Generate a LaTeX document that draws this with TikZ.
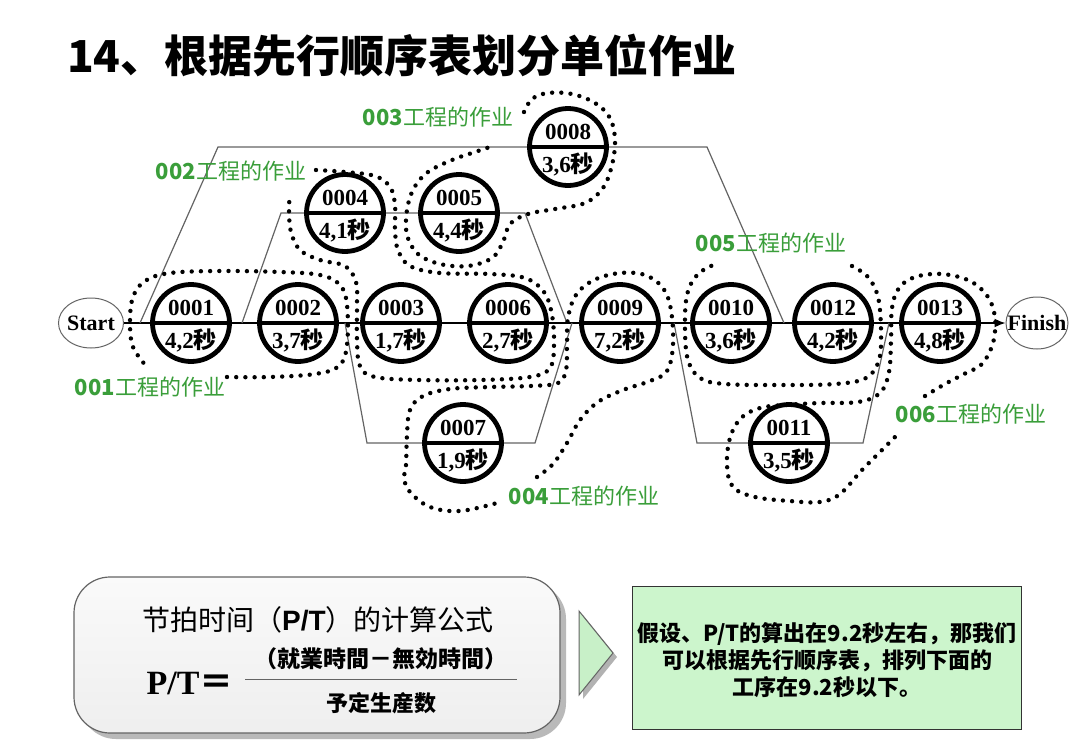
\documentclass[tikz,border=0pt]{standalone}
\usepackage{fontspec}
\setmainfont{Liberation Sans}
\newfontfamily\cjk{Noto Sans CJK SC}
\newfontfamily\tms{Liberation Serif}
\newfontfamily\ars{Liberation Sans}
\usetikzlibrary{shapes.geometric,arrows.meta,shadows}
\definecolor{lblgreen}{RGB}{58,158,58}
\definecolor{boxgreen}{RGB}{204,245,204}
\definecolor{trigreen}{RGB}{200,240,200}
\definecolor{linegray}{RGB}{100,100,100}
\newcommand\procnode[5]{%
  \node[proc] (#1) at (#2,#3) {};
  \draw[line width=4.8pt] (#1.west) -- (#1.east);
  \node[ptxt] (#1top) at ([yshift=15.5pt]#1.center) {#4};
  \node[ptxt] (#1bot) at ([yshift=-17pt]#1.center) {#5{\cjk\bfseries 秒}};
}
\begin{document}
\begin{tikzpicture}[x=1pt,y=-1pt,
  proc/.style={circle,draw=black,line width=4.8pt,fill=white,minimum size=77pt,inner sep=0pt},
  term/.style={ellipse,draw=linegray,line width=1pt,fill=white,inner sep=0pt},
  termtxt/.style={font=\tms\bfseries\fontsize{22}{22}\selectfont,inner sep=0pt},
  conn/.style={draw=linegray,line width=1.2pt},
  mainline/.style={draw=black,line width=1.6pt},
  dots/.style={line width=4.4pt,line cap=round,dash pattern=on 0pt off 9.2pt},
  grp/.style={text=lblgreen,inner sep=0pt},
  ptxt/.style={font=\tms\bfseries\fontsize{23}{23}\selectfont,inner sep=0pt}
]
\useasboundingbox (0,0) rectangle (1080,753);
\fill[white] (0,0) rectangle (1080,753);

% title
\node[anchor=west,inner sep=0pt] (title) at (67,55) {\cjk\bfseries\fontsize{44}{44}\selectfont 14、根据先行顺序表划分单位作业};

% terminals
\node[term,minimum width=65pt,minimum height=50pt] (start) at (91,323) {};
\node[termtxt] (starttxt) at (start) {Start};
\node[term,minimum width=62pt,minimum height=52pt] (finish) at (1037,323) {};
\node[termtxt] (finishtxt) at (finish) {Finish};

% branch coordinates
\coordinate (a1) at (140,323); \coordinate (a2) at (218,147);
\coordinate (a3) at (707,147); \coordinate (a4) at (784,323);
\coordinate (b1) at (242,323); \coordinate (b2) at (281,213);
\coordinate (b3) at (525,213); \coordinate (b4) at (567,323);
\coordinate (c1) at (345,323); \coordinate (c2) at (367,443);
\coordinate (c3) at (535,443); \coordinate (c4) at (572,323);
\coordinate (d1) at (674,323); \coordinate (d2) at (697,443);
\coordinate (d3) at (863,443); \coordinate (d4) at (889,323);

% connectors
\draw[mainline,-{Latex[length=11pt,width=9pt]}] (start.east) -- (finish.west);
\draw[conn] (a1) -- (a2) -- (a3) -- (a4);
\draw[conn] (b1) -- (b2) -- (b3) -- (b4);
\draw[conn] (c1) -- (c2) -- (c3) -- (c4);
\draw[conn] (d1) -- (d2) -- (d3) -- (d4);

% process circles
\procnode{p1}{191}{323}{0001}{4,2}
\procnode{p2}{298}{323}{0002}{3,7}
\procnode{p3}{401}{323}{0003}{1,7}
\procnode{p6}{508}{323}{0006}{2,7}
\procnode{p9}{620}{323}{0009}{7,2}
\procnode{p10}{731}{323}{0010}{3,6}
\procnode{p12}{833}{323}{0012}{4,2}
\procnode{p13}{940}{323}{0013}{4,8}
\procnode{p4}{345}{213}{0004}{4,1}
\procnode{p5}{459}{213}{0005}{4,4}
\procnode{p8}{568}{147}{0008}{3,6}
\procnode{p7}{463}{443}{0007}{1,9}
\procnode{p11}{789}{443}{0011}{3,5}

% dotted work groups
\draw[dots] plot[smooth,tension=0.6] coordinates {(227,377) (270,377) (315,374) (339,366) (347,345) (347,305) (340,285) (320,275) (280,272) (220,271) (170,273) (145,281) (133,297) (130,322) (133,347) (147,367)};
\draw[dots] plot[smooth,tension=0.6] coordinates {(316,170) (345,172) (375,176) (390,187) (395,205) (395,230) (398,250) (410,266) (440,273) (490,274) (525,278) (544,292) (552,315) (554,345) (550,368) (530,377) (480,380) (420,380) (375,377) (360,366) (357,340) (357,305) (356,282) (345,266) (320,260) (300,250) (291,232) (289,210) (290,193)};
\draw[dots] plot[smooth,tension=0.6] coordinates {(524,112) (532,99) (548,93) (572,94) (595,103) (610,118) (615,140) (612,165) (603,188) (585,203) (555,209) (528,214) (510,224) (503,242) (492,258) (468,266) (440,264) (418,254) (407,235) (407,210) (414,188) (428,172) (452,160) (475,152) (493,146)};
\draw[dots] plot[smooth,tension=0.6] coordinates {(537,477) (553,464) (567,443) (580,420) (598,402) (623,390) (650,381) (667,371) (673,345) (671,310) (663,288) (645,275) (620,273) (594,280) (576,295) (568,318) (567,345) (566,370) (558,383) (530,386) (490,387) (450,389) (423,396) (410,410) (407,435) (406,465) (404,478) (410,492) (430,507) (460,511) (497,503)};
\draw[dots] plot[smooth,tension=0.6] coordinates {(852,266) (868,277) (878,297) (881,330) (879,360) (866,378) (835,384) (780,385) (725,384) (700,378) (688,360) (685,330) (687,295) (698,274) (718,263)};
\draw[dots] plot[smooth,tension=0.6] coordinates {(925,396) (945,384) (966,373) (982,364) (993,343) (995,318) (988,297) (970,281) (942,274) (915,277) (899,288) (892,308) (891,340) (889,372) (880,393) (858,402) (820,403) (785,405) (760,408) (741,418) (730,438) (727,465) (733,487) (755,497) (790,501) (820,502) (840,494) (862,470) (882,450) (897,435)};

% group labels
\node[grp] (g1) at (150,387) {\fontsize{22}{22}\selectfont{\cjk\bfseries 001}{\cjk 工程的作业}};
\node[grp] (g2) at (231,171) {\fontsize{22}{22}\selectfont{\cjk\bfseries 002}{\cjk 工程的作业}};
\node[grp] (g3) at (438,117) {\fontsize{22}{22}\selectfont{\cjk\bfseries 003}{\cjk 工程的作业}};
\node[grp] (g4) at (584,496) {\fontsize{22}{22}\selectfont{\cjk\bfseries 004}{\cjk 工程的作业}};
\node[grp] (g5) at (771,243) {\fontsize{22}{22}\selectfont{\cjk\bfseries 005}{\cjk 工程的作业}};
\node[grp] (g6) at (971,414) {\fontsize{22}{22}\selectfont{\cjk\bfseries 006}{\cjk 工程的作业}};

% formula box
\node[draw=linegray,line width=1.2pt,rounded corners=36pt,top color=gray!4,bottom color=gray!13,
  minimum width=486pt,minimum height=156pt,
  drop shadow={shadow xshift=6pt,shadow yshift=-6pt,fill=gray!55,opacity=1}] (fbox) at (317,655) {};
\node[inner sep=0pt] (ftitle) at (318,620) {\cjk\fontsize{28}{28}\selectfont 节拍时间（{\ars\bfseries P/T}）的计算公式};
\node[inner sep=0pt] (fpt) at (190,683) {\tms\bfseries\fontsize{34}{34}\selectfont P/T{\cjk\bfseries ＝}};
\coordinate (frl) at (245,679); \coordinate (frr) at (517,679);
\draw[linegray,line width=1pt] (frl) -- (frr);
\node[inner sep=0pt] (fnum) at (381,659) {\cjk\bfseries\fontsize{23}{23}\selectfont （就業時間－無効時間）};
\node[inner sep=0pt] (fden) at (381,703) {\cjk\bfseries\fontsize{22}{22}\selectfont 予定生産数};

% arrow triangle
\fill[gray!60] (583,615) -- (583,699) -- (617,657) -- cycle;
\draw[draw=linegray,line width=1pt,fill=trigreen] (579,611) -- (579,695) -- (613,653) -- cycle;

% green box
\node[draw=black!80,line width=1.2pt,fill=boxgreen,minimum width=389pt,minimum height=143pt] (gbox) at (827,658) {};
\node[align=center,inner sep=0pt,font=\cjk\bfseries\fontsize{22}{27}\selectfont] (gtxt) at (827,660) {假设、P/T的算出在9.2秒左右，那我们\\可以根据先行顺序表，排列下面的\\工序在9.2秒以下。};
\end{tikzpicture}
\end{document}
